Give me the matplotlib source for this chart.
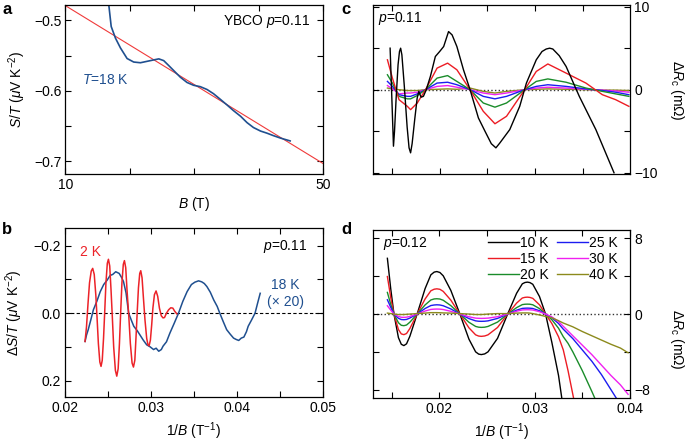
import numpy as np
import matplotlib
matplotlib.use('Agg')
import matplotlib.pyplot as plt

plt.rcParams['font.family'] = ['Liberation Sans', 'DejaVu Sans']
plt.rcParams['mathtext.fontset'] = 'custom'
plt.rcParams['mathtext.rm'] = 'Liberation Sans'
plt.rcParams['mathtext.it'] = 'Liberation Sans:italic'
plt.rcParams['mathtext.bf'] = 'Liberation Sans:bold'
plt.rcParams['font.size'] = 10
plt.rcParams['axes.linewidth'] = 0.9

#### panel a : S/T vs B at 18 K, with linear background
B_a = [16.73, 17.1, 17.76, 18.54, 19.57, 20.6, 21.64, 22.67, 23.7, 24.5, 25.26, 26.04,
       26.8, 27.85, 28.88, 29.9, 30.95, 31.99, 33.0, 34.06, 35.1, 36.1, 37.2, 38.2,
       39.2, 40.3, 41.3, 42.3, 43.4, 44.9]
ST_a = [-0.478, -0.5085, -0.525, -0.539, -0.554, -0.559, -0.560, -0.558, -0.556, -0.5545,
        -0.557, -0.564, -0.571, -0.5806, -0.588, -0.592, -0.594, -0.598, -0.604, -0.612,
        -0.620, -0.628, -0.636, -0.645, -0.652, -0.657, -0.660, -0.6635, -0.667, -0.671]
B_fit = [10, 50]
ST_fit = [-0.479, -0.703]

#### panel b : oscillatory part dS/T vs 1/B
x_2K = [0.02233, 0.02250, 0.02268, 0.02285, 0.02305, 0.02322, 0.02340, 0.02358, 0.02372,
        0.02388, 0.02405, 0.02419, 0.02433, 0.02448, 0.02462, 0.02476, 0.02492, 0.02505,
        0.02520, 0.02535, 0.02550, 0.02566, 0.02586, 0.02602, 0.02618, 0.02633, 0.02647,
        0.02662, 0.02678, 0.02691, 0.02706, 0.02722, 0.02742, 0.02760, 0.02780, 0.02796,
        0.02812, 0.02826, 0.02840, 0.02854, 0.02869, 0.02881, 0.02896, 0.02912, 0.02930,
        0.02950, 0.02965, 0.02978, 0.02993, 0.03008, 0.03022, 0.03040, 0.03059, 0.03078,
        0.03098, 0.03120, 0.03140, 0.03157, 0.03180, 0.03205, 0.03230, 0.03254, 0.03275,
        0.03300]
y_2K = [0.084, 0.040, -0.030, -0.090, -0.125, -0.133, -0.115, -0.055, 0.010,
        0.090, 0.145, 0.158, 0.140, 0.075, -0.005, -0.090, -0.148, -0.160,
        -0.140, -0.070, 0.010, 0.100, 0.170, 0.187, 0.165, 0.090, 0.000,
        -0.090, -0.145, -0.156, -0.135, -0.065, 0.010, 0.090, 0.148, 0.160,
        0.140, 0.070, -0.005, -0.075, -0.118, -0.126, -0.105, -0.045, 0.020,
        0.075, 0.094, 0.097, 0.080, 0.035, -0.015, -0.055, -0.066, -0.050,
        -0.015, 0.008, 0.014, 0.013, 0.000, -0.010, -0.016, -0.015, -0.006,
        0.002]
x_18K = [0.02233, 0.0225, 0.0227, 0.0230, 0.0233, 0.0237, 0.0241, 0.0245, 0.0249, 0.02525,
         0.02555, 0.0259, 0.0263, 0.0266, 0.0268, 0.0271, 0.0274, 0.0277, 0.0280, 0.0284,
         0.0287, 0.0291, 0.0295, 0.0299, 0.0303, 0.0306, 0.0309, 0.0312, 0.0314, 0.0318,
         0.0322, 0.0327, 0.0332, 0.0337, 0.0342, 0.0347, 0.0351, 0.03553, 0.0359, 0.0362,
         0.0365, 0.0369, 0.0373, 0.0377, 0.0380, 0.0384, 0.0388, 0.0392, 0.0396, 0.0399,
         0.0402, 0.0405, 0.0408, 0.0411, 0.0413, 0.0417, 0.0421, 0.0424, 0.0427]
y_18K = [0.084, 0.065, 0.049, 0.020, -0.010, -0.035, -0.064, -0.085, -0.098, -0.112,
         -0.115, -0.123, -0.118, -0.105, -0.094, -0.060, 0.000, 0.020, 0.039, 0.052,
         0.064, 0.080, 0.094, 0.100, 0.108, 0.104, 0.113, 0.108, 0.098, 0.085,
         0.059, 0.030, 0.000, -0.035, -0.064, -0.085, -0.092, -0.096, -0.093, -0.088,
         -0.079, -0.062, -0.039, -0.020, 0.000, 0.025, 0.049, 0.062, 0.074, 0.078,
         0.081, 0.074, 0.071, 0.055, 0.039, 0.020, 0.000, -0.030, -0.059]

#### panel c : dRc, p = 0.11
x_c10 = [0.01482, 0.01500, 0.01517, 0.01528, 0.01545, 0.01565, 0.01580, 0.01592, 0.01605,
         0.01630, 0.01660, 0.01680, 0.01696, 0.01712, 0.01740, 0.01765, 0.01782, 0.01805,
         0.01830, 0.01860, 0.01903, 0.01955, 0.02000, 0.02042, 0.02093, 0.02130, 0.02180,
         0.02249, 0.02318, 0.02405, 0.02474, 0.02540, 0.02588, 0.02630, 0.02733, 0.02837,
         0.02907, 0.03010, 0.03070, 0.03114, 0.03150, 0.03183, 0.03250, 0.03322, 0.03460,
         0.03633, 0.03823]
y_c10 = [5.0, -1.0, -6.8, -5.0, -1.0, 3.0, 4.6, 5.0, 4.2,
         0.5, -4.5, -7.0, -7.6, -6.5, -3.5, -1.0, -0.2, -0.9,
         -0.8, 0.0, 1.6, 4.0, 4.6, 5.2, 7.0, 6.6, 5.2,
         2.4, 0.0, -3.4, -5.0, -6.5, -7.0, -6.4, -4.8, -2.0,
         0.8, 3.6, 4.6, 4.9, 5.0, 4.9, 4.1, 2.8, -0.8,
         -4.8, -10.0]
x_c = [0.01454, 0.01506, 0.01575, 0.01662, 0.01696, 0.01766, 0.01852, 0.01973, 0.02083,
       0.02180, 0.02318, 0.02456, 0.02578, 0.02699, 0.02889, 0.03010, 0.03131, 0.03322,
       0.03529, 0.03701, 0.03840, 0.03978]
y_c15 = [3.6, 1.4, -1.2, -2.0, -2.4, -1.6, 0.0, 2.6, 3.2, 2.4, 0.0, -2.6, -4.1, -3.2,
         0.0, 2.2, 3.1, 2.0, 0.8, -0.6, -1.2, -2.0]
y_c20 = [1.8, 0.8, -0.8, -1.1, -1.1, -0.7, 0.0, 1.4, 1.7, 1.0, 0.0, -1.6, -2.1, -1.6,
         0.0, 1.0, 1.3, 0.9, 0.2, -0.2, -0.5, -0.8]
y_c25 = [1.0, 0.4, -0.6, -0.8, -0.8, -0.5, 0.0, 0.8, 0.9, 0.6, 0.0, -0.8, -1.1, -0.8,
         0.0, 0.4, 0.6, 0.4, 0.1, -0.1, -0.3, -0.6]
y_c30 = [0.5, 0.1, -0.5, -0.4, -0.4, -0.3, 0.0, 0.4, 0.5, 0.3, 0.0, -0.4, -0.6, -0.4,
         0.0, 0.2, 0.3, 0.2, 0.05, -0.05, -0.15, -0.3]
y_c40 = [0.2, 0.1, 0.0, -0.1, -0.1, -0.1, 0.0, 0.05, 0.1, 0.05, 0.2, -0.2, -0.4, -0.2,
         0.0, 0.05, 0.1, 0.05, 0.0, -0.05, -0.05, -0.1]

#### panel d : dRc, p = 0.12
x_d = [0.01454, 0.01490, 0.01523, 0.01570, 0.01600, 0.01627, 0.01655, 0.01690, 0.01766,
       0.01850, 0.01910, 0.01945, 0.01973, 0.02005, 0.02040, 0.02120, 0.02215, 0.02310,
       0.02380, 0.02412, 0.02440, 0.02475, 0.02510, 0.02610, 0.02716, 0.02810, 0.02870,
       0.02898, 0.02923, 0.02950, 0.02980, 0.03050, 0.03114,
       0.0318, 0.0325, 0.0330, 0.0335, 0.0340, 0.0345, 0.0350, 0.0360, 0.0370, 0.0380,
       0.0390, 0.0398]
y_d10 = [5.9, 2.6, 0.0, -2.5, -3.2, -3.34, -3.15, -2.35, 0.0,
         2.7, 4.15, 4.44, 4.5, 4.4, 4.05, 2.5, 0.0, -2.66,
         -4.0, -4.24, -4.29, -4.22, -4.0, -2.57, 0.0, 2.2, 3.2,
         3.34, 3.38, 3.33, 3.15, 1.86, 0.0,
         -3.0, -6.5, -10.0, -13.5, -17, -20, -23, -29, -35, -41, -47, -52]
y_d15 = [3.97, 1.7, 0.0, -1.64, -2.1, -2.18, -2.06, -1.53, 0.0,
         1.6, 2.46, 2.63, 2.67, 2.62, 2.4, 1.47, 0.0, -1.46,
         -2.2, -2.33, -2.36, -2.32, -2.2, -1.42, 0.0, 1.16, 1.7,
         1.77, 1.79, 1.76, 1.66, 0.98, 0.0,
         -1.0, -2.4, -3.8, -6.0, -8.5, -11, -13.5, -18.5, -23.5, -28.5, -33.5, -37.5]
y_d20 = [2.29, 1.0, 0.0, -0.92, -1.19, -1.23, -1.16, -0.86, 0.0,
         0.97, 1.49, 1.6, 1.62, 1.59, 1.46, 0.89, 0.0, -0.87,
         -1.31, -1.39, -1.41, -1.39, -1.31, -0.85, 0.0, 0.68, 1.0,
         1.04, 1.05, 1.04, 0.98, 0.58, 0.0,
         -0.6, -1.5, -2.4, -3.1, -4.0, -5.0, -6.0, -8.2, -10.5, -12.8, -15, -17]
y_d25 = [1.51, 0.7, 0.0, -0.45, -0.58, -0.6, -0.57, -0.42, 0.0,
         0.59, 0.9, 0.96, 0.98, 0.96, 0.88, 0.54, 0.0, -0.48,
         -0.72, -0.76, -0.77, -0.76, -0.72, -0.46, 0.0, 0.41, 0.6,
         0.62, 0.63, 0.62, 0.59, 0.35, 0.0,
         -0.4, -1.0, -1.6, -2.1, -2.6, -3.2, -3.8, -5.0, -6.4, -8.0, -9.6, -11]
y_d30 = [0.88, 0.4, 0.0, -0.26, -0.34, -0.35, -0.33, -0.25, 0.0,
         0.32, 0.49, 0.52, 0.53, 0.52, 0.48, 0.29, 0.0, -0.29,
         -0.43, -0.45, -0.46, -0.45, -0.43, -0.28, 0.0, 0.3, 0.44,
         0.45, 0.46, 0.45, 0.43, 0.25, 0.0,
         -0.3, -0.8, -1.3, -1.8, -2.3, -2.8, -3.3, -4.3, -5.4, -6.5, -7.5, -8.5]
y_d40 = [0.1, 0.05, 0.0, -0.05, -0.05, -0.05, -0.03, 0.0, 0.05,
         0.1, 0.15, 0.15, 0.15, 0.14, 0.12, 0.1, 0.05, 0.0,
         -0.05, -0.05, -0.05, -0.03, 0.0, 0.05, 0.05, 0.1, 0.12,
         0.12, 0.12, 0.1, 0.05, -0.1, -0.25,
         -0.4, -0.7, -0.95, -1.15, -1.35, -1.6, -1.85, -2.3, -2.75, -3.2, -3.6, -4.1]

temps = ['10 K', '15 K', '20 K', '25 K', '30 K', '40 K']
colors = ['black', '#ec1c24', '#1a8c2a', '#1c1cf0', '#f020f0', '#8c8a1c']
navy = '#1f4f8f'
red = '#ec2228'

fig = plt.figure(figsize=(6.85, 4.42), dpi=100)


def style(ax):
    ax.tick_params(which='both', direction='in', top=True, right=True,
                   length=4, width=0.8, labelsize=10, pad=3)


# a
ax = fig.add_axes([0.0956, 0.6063, 0.3759, 0.3824])
ax.plot(B_fit, ST_fit, color='#f03a3a', lw=0.8)
ax.plot(B_a, ST_a, color=navy, lw=1.2)
ax.set_xlim(10, 50)
ax.set_ylim(-0.718, -0.478)
ax.set_xticks([10, 50])
ax.set_xticks([20, 30, 40], minor=True)
ax.set_yticks([-0.7, -0.6, -0.5])
ax.set_yticks([-0.65, -0.55], minor=True)
style(ax)
ax.set_xlabel(r'$B$ (T)', labelpad=2)
ax.set_ylabel(r'$S/T$ ($\mu$V K$^{-2}$)', labelpad=4)
ax.text(0.95, 0.905, r'YBCO $p$=0.11', transform=ax.transAxes, ha='right', va='center')
ax.text(0.064, 0.556, r'$T$=18 K', transform=ax.transAxes, ha='left', va='center', color=navy)

# b
ax = fig.add_axes([0.0949, 0.1025, 0.3766, 0.381])
ax.axhline(0, color='k', lw=0.8, ls='--', dashes=(3, 2), zorder=1)
ax.plot(x_18K, y_18K, color=navy, lw=1.1)
ax.plot(x_2K, y_2K, color=red, lw=1.1)
ax.set_xlim(0.02, 0.05)
ax.set_ylim(0.248, -0.252)
ax.set_xticks([0.02, 0.03, 0.04, 0.05])
ax.set_xticks([0.025, 0.035, 0.045], minor=True)
ax.set_yticks([-0.2, 0.0, 0.2])
ax.set_yticks([-0.1, 0.1], minor=True)
style(ax)
ax.set_xlabel(r'1/$B$ (T$^{-1}$)', labelpad=4)
ax.set_ylabel(r'$\Delta S/T$ ($\mu$V K$^{-2}$)', labelpad=6)
ax.text(0.058, 0.862, '2 K', transform=ax.transAxes, ha='left', va='center', color=red)
ax.text(0.855, 0.663, '18 K', transform=ax.transAxes, ha='center', va='center', color=navy)
ax.text(0.855, 0.56, '(\u00d7 20)', transform=ax.transAxes, ha='center', va='center', color=navy)
ax.text(0.94, 0.894, r'$p$=0.11', transform=ax.transAxes, ha='right', va='center')

# c
ax = fig.add_axes([0.5441, 0.6063, 0.3756, 0.3824])
ax.axhline(0, color='#333333', lw=1.0, ls=':', zorder=1)
ax.plot(x_c, y_c40, color=colors[5], lw=1.0)
ax.plot(x_c, y_c30, color=colors[4], lw=1.0)
ax.plot(x_c, y_c25, color=colors[3], lw=1.0)
ax.plot(x_c, y_c20, color=colors[2], lw=1.0)
ax.plot(x_c, y_c15, color=colors[1], lw=1.0)
ax.plot(x_c10, y_c10, color=colors[0], lw=1.0)
ax.set_xlim(0.013, 0.0399)
ax.set_ylim(-10.15, 10.2)
ax.set_xticks([0.015, 0.02, 0.025, 0.03, 0.035])
ax.set_yticks([-10, 0, 10])
ax.set_yticks([-5, 5], minor=True)
style(ax)
ax.tick_params(labelbottom=False, labelleft=False, labelright=True)
ax.text(0.022, 0.923, r'$p$=0.11', transform=ax.transAxes, ha='left', va='center')

# d
ax = fig.add_axes([0.5441, 0.1003, 0.3756, 0.3794])
ax.axhline(0, color='#333333', lw=1.0, ls=':', zorder=1)
ys_d = [y_d10, y_d15, y_d20, y_d25, y_d30, y_d40]
lines = []
for yv, c, t in zip(ys_d, colors, temps):
    ln, = ax.plot(x_d, yv, color=c, lw=1.0, label=t)
    lines.append(ln)
ax.set_xlim(0.013, 0.0399)
ax.set_ylim(-8.85, 8.9)
ax.set_xticks([0.02, 0.03, 0.04])
ax.set_xticks([0.015, 0.025, 0.035], minor=True)
ax.set_yticks([-8, 0, 8])
ax.set_yticks([-4, 4], minor=True)
style(ax)
ax.tick_params(labelleft=False, labelright=True)
ax.set_xlabel(r'1/$B$ (T$^{-1}$)', labelpad=4)
ax.text(0.041, 0.922, r'$p$=0.12', transform=ax.transAxes, ha='left', va='center')
ax.legend(lines, temps, ncol=2, loc='upper right', bbox_to_anchor=(0.975, 1.0),
          frameon=False, handlelength=2.2, handletextpad=0.1, columnspacing=0.6,
          labelspacing=0.15, borderaxespad=0.0, fontsize=10)

# right-hand y labels
fig.text(0.988, 0.796, r'$\Delta R_{\rm c}$ (m$\Omega$)', rotation=270, ha='center', va='center')
fig.text(0.988, 0.233, r'$\Delta R_{\rm c}$ (m$\Omega$)', rotation=270, ha='center', va='center')

# panel letters
for lab, x, y in [('a', 0.003, 0.995), ('b', 0.003, 0.497), ('c', 0.499, 0.995), ('d', 0.499, 0.497)]:
    fig.text(x, y, lab, fontsize=12, fontweight='bold', ha='left', va='top')

fig.savefig('out.png', dpi=100)
